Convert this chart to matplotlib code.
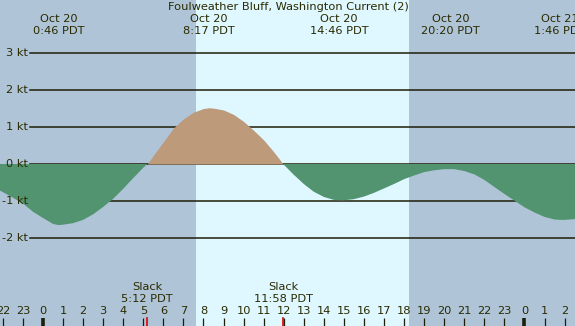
import numpy as np
import matplotlib
matplotlib.use("Agg")
import matplotlib.pyplot as plt

# hours since midnight Oct 20 (PDT), current speed in knots
hours = [-2.5, -2.0, -1.5, -1.0, -0.5, 0.0, 0.5, 0.77, 1.0, 1.5, 2.0, 2.5, 3.0, 3.5,
         4.0, 4.5, 5.0, 5.2, 5.5, 6.0, 6.5, 7.0, 7.5, 8.0, 8.28, 8.5, 9.0, 9.5, 10.0,
         10.5, 11.0, 11.5, 11.97, 12.5, 13.0, 13.5, 14.0, 14.5, 14.77, 15.0, 15.5,
         16.0, 16.5, 17.0, 17.5, 18.0, 18.5, 19.0, 19.5, 20.0, 20.33, 20.5, 21.0,
         21.5, 22.0, 22.5, 23.0, 23.5, 24.0, 24.5, 25.0, 25.5, 25.77, 26.0, 26.5, 27.0]
speed = [-0.62, -0.76, -0.91, -1.07, -1.29, -1.46, -1.62, -1.65, -1.64, -1.60, -1.51,
         -1.36, -1.16, -0.94, -0.67, -0.38, -0.10, 0.0, 0.23, 0.60, 0.97, 1.22, 1.40,
         1.50, 1.52, 1.51, 1.46, 1.34, 1.15, 0.91, 0.65, 0.33, 0.0, -0.29, -0.54,
         -0.75, -0.89, -0.97, -0.98, -0.98, -0.95, -0.88, -0.78, -0.66, -0.54, -0.41,
         -0.31, -0.22, -0.17, -0.14, -0.14, -0.14, -0.19, -0.28, -0.43, -0.62, -0.81,
         -0.99, -1.17, -1.31, -1.43, -1.50, -1.51, -1.51, -1.49, -1.45]

# max current events along the top
event_times = [0.77, 8.28, 14.77, 20.33, 25.77]
event_dates = ["Oct 20", "Oct 20", "Oct 20", "Oct 20", "Oct 21"]
event_labels = ["0:46 PDT", "8:17 PDT", "14:46 PDT", "20:20 PDT", "1:46 PDT"]

# slack water along the bottom
slack_times = [5.2, 11.97]
slack_labels = ["5:12 PDT", "11:58 PDT"]

sunrise = 7.63
sunset = 18.25

kt_levels = [3, 2, 1, 0, -1, -2]
kt_labels = ["3 kt", "2 kt", "1 kt", "0 kt", "-1 kt", "-2 kt"]

hour_ticks = list(range(-2, 27))
hour_labels = ["22", "23", "0", "1", "2", "3", "4", "5", "6", "7", "8", "9", "10",
               "11", "12", "13", "14", "15", "16", "17", "18", "19", "20", "21",
               "22", "23", "0", "1", "2"]

NIGHT = "#b0c4d8"
DAY = "#dff7ff"
EBB = "#529470"
FLOOD = "#bc9a7a"
INK = "#2a2a00"
LINE = "#1e1e08"

# pixel mapping: x = 43 + 20.06*h ; y = 164 - 37*kt
PX_H = 20.06
PX_KT = 37.0
W, H = 575, 326


def kt(ypx):
    return (164 - ypx) / PX_KT


fig = plt.figure(figsize=(W / 100, H / 100), dpi=100)
ax = fig.add_axes([0, 0, 1, 1])
ax.set_xlim(-43 / PX_H, (W - 43) / PX_H)
ax.set_ylim(kt(H), kt(0))
ax.axis("off")
fig.patch.set_facecolor(NIGHT)

ax.axvspan(sunrise, sunset, color=DAY, lw=0, zorder=0)

# grid lines
x0 = (30 - 43) / PX_H
for lev, lab in zip(kt_levels, kt_labels):
    ax.plot([x0, 30], [lev, lev], color=LINE, lw=1.1, zorder=1)
    ax.text(-15 / PX_H, lev, lab, ha="right", va="center", fontsize=8.2, color=INK)

t = np.array(hours)
v = np.array(speed)
ax.fill_between(t, v, 0, where=v >= 0, interpolate=True, color=FLOOD, lw=0, zorder=2)
ax.fill_between(t, v, 0, where=v <= 0, interpolate=True, color=EBB, lw=0, zorder=2)

ax.text((288 - 43) / PX_H, kt(7.5), "Foulweather Bluff, Washington Current (2)",
        ha="center", va="center", fontsize=8.2, color=INK)

for et, d, lab in zip(event_times, event_dates, event_labels):
    ax.text(et, kt(19.5), d, ha="center", va="center", fontsize=8.2, color=INK)
    ax.text(et, kt(31.5), lab, ha="center", va="center", fontsize=8.2, color=INK)

for st, lab in zip(slack_times, slack_labels):
    ax.text(st, kt(287.5), "Slack", ha="center", va="center", fontsize=8.2, color=INK)
    ax.text(st, kt(299.5), lab, ha="center", va="center", fontsize=8.2, color=INK)
    ax.plot([st, st], [kt(318), kt(326)], color="#dd0000", lw=1.2, zorder=3)

for h, lab in zip(hour_ticks, hour_labels):
    ax.text(h, kt(311.5), lab, ha="center", va="center", fontsize=8.2, color=INK)
    lw = 2.6 if lab == "0" else 0.9
    ax.plot([h, h], [kt(318), kt(326)], color=LINE, lw=lw, zorder=3,
            solid_capstyle="butt")

fig.savefig("out.png", dpi=100, facecolor=NIGHT)
